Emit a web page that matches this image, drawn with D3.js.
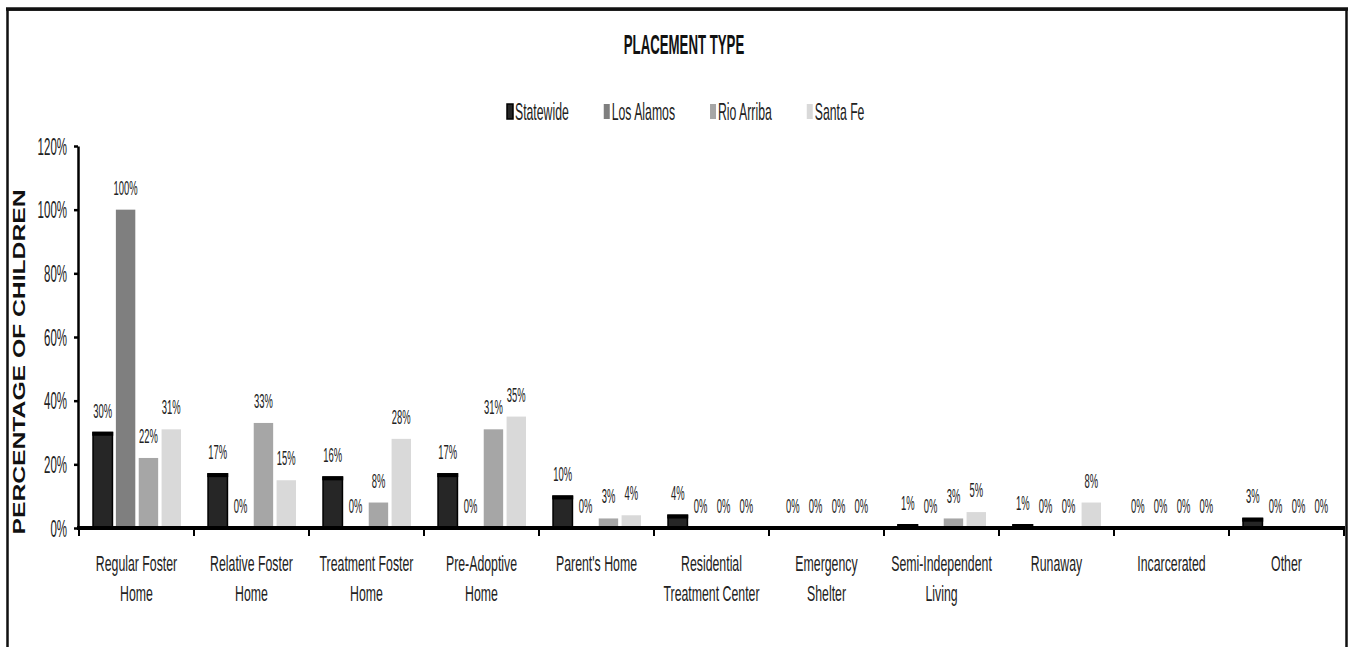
<!DOCTYPE html>
<html>
<head>
<meta charset="utf-8">
<script src="https://cdn.jsdelivr.net/npm/d3@7/dist/d3.min.js"></script>
<style>
  html, body { margin: 0; padding: 0; background: #fff; }
  svg { display: block; }
  text { font-family: "Liberation Sans", Arial, sans-serif; fill: #222; }
</style>
</head>
<body>
<svg id="chart" width="1354" height="647"></svg>
<script>
// ---------- data ----------
const categories = ["Regular Foster Home", "Relative Foster Home", "Treatment Foster Home",
  "Pre-Adoptive Home", "Parent's Home", "Residential Treatment Center", "Emergency Shelter",
  "Semi-Independent Living", "Runaway", "Incarcerated", "Other"];
const categoryLabelLines = [["Regular Foster", "Home"], ["Relative Foster", "Home"],
  ["Treatment Foster", "Home"], ["Pre-Adoptive", "Home"], ["Parent's Home"],
  ["Residential", "Treatment Center"], ["Emergency", "Shelter"],
  ["Semi-Independent", "Living"], ["Runaway"], ["Incarcerated"], ["Other"]];
const seriesNames = ["Statewide", "Los Alamos", "Rio Arriba", "Santa Fe"];
const statewide = [30, 17, 16, 17, 10, 4, 0, 1, 1, 0, 3];
const losAlamos = [100, 0, 0, 0, 0, 0, 0, 0, 0, 0, 0];
const rioArriba = [22, 33, 8, 31, 3, 0, 0, 3, 0, 0, 0];
const santaFe = [31, 15, 28, 35, 4, 0, 0, 5, 8, 0, 0];
const yTickValues = [0, 20, 40, 60, 80, 100, 120];
const titleText = "PLACEMENT TYPE";
const yTitleText = "PERCENTAGE OF CHILDREN";

const seriesValues = [statewide, losAlamos, rioArriba, santaFe];
const seriesColors = ["#262626", "#7f7f7f", "#a6a6a6", "#d9d9d9"];

// ---------- layout ----------
const svg = d3.select("#chart");
const plot = { left: 79, right: 1344, top: 146, bottom: 528 };

// frame
svg.append("rect").attr("x", 7.5).attr("y", 9.5).attr("width", 1339).attr("height", 700)
  .attr("fill", "none").attr("stroke", "#111").attr("stroke-width", 2.5);
svg.append("line").attr("x1", 6).attr("x2", 1348).attr("y1", 9).attr("y2", 9)
  .attr("stroke", "#111").attr("stroke-width", 3.5);

// helper: horizontally condensed text
function sText(parent, x, y, str, size, sx, anchor, weight) {
  return parent.append("text")
    .attr("transform", `translate(${x},${y}) scale(${sx},1)`)
    .attr("text-anchor", anchor || "middle")
    .style("font-size", size + "px")
    .style("font-weight", weight || "normal")
    .text(str);
}

// scales
const x0 = d3.scaleBand().domain(categories).range([plot.left, plot.right]).padding(0);
const bw = x0.bandwidth();
const x1 = d3.scaleBand().domain(seriesNames).range([bw * 0.122, bw * 0.887]).paddingInner(0.15);
const y = d3.scaleLinear().domain([0, 120]).range([plot.bottom, plot.top]);

// title
sText(svg, 684, 54, titleText, 27, 0.49, "middle", "bold").style("fill", "#111");

// legend
let lx = 507;
seriesNames.forEach((name, i) => {
  const g = svg.append("g");
  g.append("rect").attr("x", lx).attr("y", 104).attr("width", 6).attr("height", 15)
    .attr("fill", seriesColors[i])
    .attr("stroke", i === 0 ? "#000" : "none").attr("stroke-width", i === 0 ? 1.5 : 0);
  const t = sText(g, lx + 8, 120, name, 24, 0.51, "start");
  const w = t.node().getComputedTextLength() * 0.51;
  lx = lx + 8 + w + 35;
});

// y axis title
svg.append("text")
  .attr("transform", `translate(25,362) rotate(-90)`)
  .attr("text-anchor", "middle")
  .attr("textLength", 345)
  .attr("lengthAdjust", "spacingAndGlyphs")
  .style("font-size", "17px").style("font-weight", "bold").style("fill", "#111")
  .text(yTitleText);

// bars
const groups = svg.append("g").selectAll("g")
  .data(categories).join("g")
  .attr("transform", d => `translate(${x0(d)},0)`);

seriesNames.forEach((name, si) => {
  groups.each(function(cat, ci) {
    const v = seriesValues[si][ci];
    const g = d3.select(this);
    const bx = x1(name), bwid = x1.bandwidth();
    const top = y(v), h = y(0) - y(v);
    if (h > 0) {
      g.append("rect").attr("x", bx).attr("y", top).attr("width", bwid).attr("height", h)
        .attr("fill", seriesColors[si])
        .attr("stroke", si === 0 ? "#000" : "none")
        .attr("stroke-width", si === 0 ? 1.5 : 0);
      if (si === 0) {
        g.append("rect").attr("x", bx - 0.75).attr("y", top - 0.75)
          .attr("width", bwid + 1.5).attr("height", Math.min(4, h + 0.75)).attr("fill", "#000");
      }
    }
    sText(g, bx + bwid / 2, top - 15, v + "%", 20.5, 0.46, "middle");
  });
});

// y axis
const yAxis = d3.axisLeft(y).tickValues(yTickValues).tickFormat(d => d + "%").tickSize(4).tickSizeOuter(0);
const yg = svg.append("g").attr("transform", `translate(78,0)`).call(yAxis);
yg.select(".domain").attr("stroke", "#000").attr("stroke-width", 2.5);
yg.selectAll(".tick line").attr("stroke", "#000").attr("stroke-width", 2.5);
yg.selectAll(".tick text")
  .attr("x", null).attr("dy", null)
  .attr("transform", "translate(-11,8) scale(0.5,1)")
  .style("font-size", "23px").style("font-family", "'Liberation Sans', Arial, sans-serif")
  .attr("fill", "#222");

// x axis (line + boundary ticks)
svg.append("line").attr("x1", 77).attr("x2", plot.right + 1).attr("y1", plot.bottom).attr("y2", plot.bottom)
  .attr("stroke", "#000").attr("stroke-width", 4);
const boundaries = categories.map(c => x0(c)).concat([x0(categories[categories.length - 1]) + bw]);
svg.append("g").selectAll("line").data(boundaries).join("line")
  .attr("x1", d => d).attr("x2", d => d).attr("y1", plot.bottom).attr("y2", plot.bottom + 8)
  .attr("stroke", "#000").attr("stroke-width", 2);

// x labels
categories.forEach((cat, i) => {
  const cx = x0(cat) + bw / 2;
  categoryLabelLines[i].forEach((line, li) => {
    sText(svg, cx, 571 + li * 30, line, 22, 0.56, "middle");
  });
});
</script>
</body>
</html>
